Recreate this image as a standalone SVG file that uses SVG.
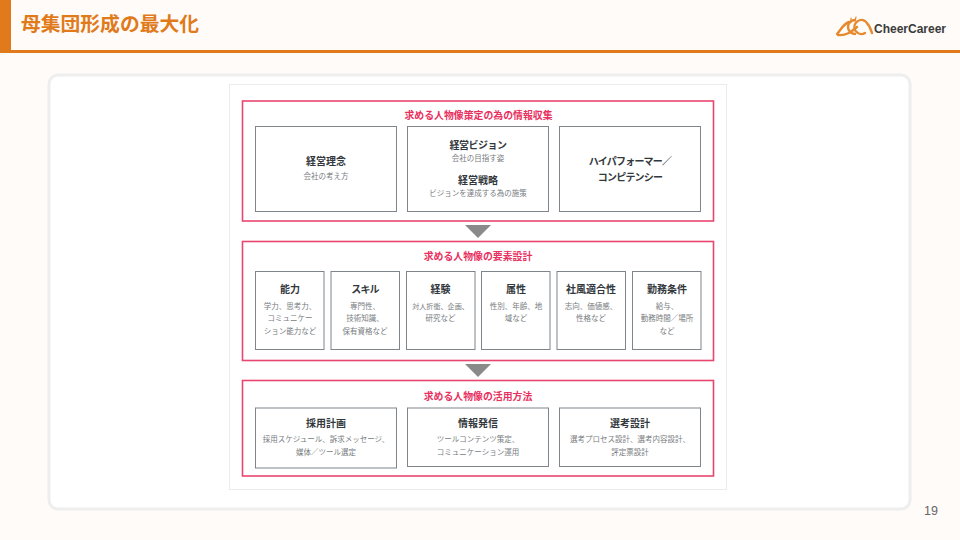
<svg xmlns="http://www.w3.org/2000/svg" width="960" height="540" viewBox="0 0 960 540">
<defs><style>
text{font-family:"Noto Sans CJK JP","Liberation Sans",sans-serif;text-anchor:middle}
.sec{fill:none;stroke:#e8456f;stroke-width:1.6}
.box{fill:#fff;stroke:#7f858b;stroke-width:1}
.st{font-size:9.9px;font-weight:700;fill:#e8305f}
.h{font-size:10px;font-weight:700;fill:#33383d}
.k{letter-spacing:-0.8px}
.d{font-size:7.5px;fill:#777c80}
.n{font-size:7.1px}
.arr{fill:#8a8a8a}
</style></defs>
<rect width="960" height="540" fill="#fffbf8"/>
<g id="header">
<rect x="0" y="0" width="11" height="53" fill="#e07a1a"/>
<rect x="0" y="50" width="960" height="3" fill="#e07a1a"/>
<text x="110" y="31" style="font-size:19.8px;font-weight:700;fill:#e07a1a">母集団形成の最大化</text>
</g>
<g id="logo">
<g fill="none" stroke="#e58a2e" stroke-width="2.400" stroke-linecap="round">
<path d="M837 34C841 30 843 24 849 22"/>
<path d="M855 20A7 7 0 1 0 855 34"/>
<path d="M865 21A7 7 0 1 0 865 33"/>
<path d="M838 35C846 36 851 32 857 27"/>
<path d="M866 22C869 25 871 29 872 33"/>
<path d="M851 18L851 22M856 17L855 21" stroke-width="1.200"/>
</g>
<text x="910" y="32.500" style="font-size:12px;font-weight:700;fill:#3a3a3a;font-family:'Liberation Sans',sans-serif">CheerCareer</text>
</g>
<g id="panel">
<rect x="49" y="75" width="861" height="434" rx="9" fill="#fff" stroke="#eeeeee" stroke-width="3"/>
<rect x="229.500" y="84.500" width="497" height="405" fill="#fff" stroke="#ececec" stroke-width="1"/>
</g>
<g id="section1">
<rect class="sec" x="242.500" y="101" width="471" height="120"/>
<text class="st" x="478.500" y="119">求める人物像策定の為の情報収集</text>
</g>
<g id="n-rinen">
<rect class="box" x="255.500" y="126.500" width="141" height="85"/>
<text class="h" x="326" y="165">経営理念</text>
<text class="d" x="326" y="179">会社の考え方</text>
</g>
<g id="n-vision">
<rect class="box" x="407.500" y="126.500" width="141" height="85"/>
<text class="h" style="letter-spacing:-0.5px" x="478" y="148.500">経営ビジョン</text>
<text class="d" x="478" y="161">会社の目指す姿</text>
<text class="h" x="478" y="184">経営戦略</text>
<text class="d" x="478" y="195.500">ビジョンを達成する為の施策</text>
</g>
<g id="n-hp">
<rect class="box" x="559.500" y="126.500" width="141" height="85"/>
<text class="h k" x="630" y="165">ハイパフォーマー／</text>
<text class="h k" x="630" y="181">コンピテンシー</text>
</g>
<g id="connectors">
<polygon class="arr" points="465,225 491,225 478,238"/>
<polygon class="arr" points="465,364 491,364 478,377"/>
</g>
<g id="section2">
<rect class="sec" x="242.500" y="241.500" width="471" height="119"/>
<text class="st" x="478" y="260">求める人物像の要素設計</text>
</g>
<g id="n-noryoku">
<rect class="box" x="255.500" y="271.500" width="68.500" height="78"/>
<text class="h" x="290" y="293">能力</text>
<text class="d" x="290" y="308.500">学力、思考力、</text>
<text class="d" x="290" y="320.500">コミュニケー</text>
<text class="d" x="290" y="333.500">ション能力など</text>
</g>
<g id="n-skill">
<rect class="box" x="331" y="271.500" width="68.500" height="78"/>
<text class="h k" x="365" y="293">スキル</text>
<text class="d" x="365" y="308.500">専門性、</text>
<text class="d" x="365" y="320.500">技術知識、</text>
<text class="d" x="365" y="333.500">保有資格など</text>
</g>
<g id="n-keiken">
<rect class="box" x="406.500" y="271.500" width="68.500" height="78"/>
<text class="h" x="440.500" y="293">経験</text>
<text class="d n" x="440.500" y="308.500">対人折衝、企画、</text>
<text class="d" x="440.500" y="320.500">研究など</text>
</g>
<g id="n-zokusei">
<rect class="box" x="481.500" y="271.500" width="68.500" height="78"/>
<text class="h" x="516" y="293">属性</text>
<text class="d" x="516" y="308.500">性別、年齢、地</text>
<text class="d" x="516" y="320.500">域など</text>
</g>
<g id="n-shafu">
<rect class="box" x="557" y="271.500" width="68.500" height="78"/>
<text class="h" x="591" y="293">社風適合性</text>
<text class="d" x="591" y="308.500">志向、価値感、</text>
<text class="d" x="591" y="320.500">性格など</text>
</g>
<g id="n-kinmu">
<rect class="box" x="632.500" y="271.500" width="68.500" height="78"/>
<text class="h" x="667" y="293">勤務条件</text>
<text class="d" x="667" y="308.500">給与、</text>
<text class="d" x="667" y="320.500">勤務時間／場所</text>
<text class="d" x="667" y="333.500">など</text>
</g>
<g id="section3">
<rect class="sec" x="242.500" y="380.500" width="471" height="95.500"/>
<text class="st" x="478" y="400">求める人物像の活用方法</text>
</g>
<g id="n-saiyo">
<rect class="box" x="255.500" y="408" width="141" height="60"/>
<text class="h" x="326" y="427">採用計画</text>
<text class="d" x="326" y="442">採用スケジュール、訴求メッセージ、</text>
<text class="d" x="326" y="454.500">媒体／ツール選定</text>
</g>
<g id="n-joho">
<rect class="box" x="407.500" y="408" width="141" height="58.500"/>
<text class="h" x="478" y="427">情報発信</text>
<text class="d" x="478" y="442">ツールコンテンツ策定、</text>
<text class="d" x="478" y="454.500">コミュニケーション運用</text>
</g>
<g id="n-senko">
<rect class="box" x="559.500" y="408" width="141" height="58.500"/>
<text class="h" x="630" y="427">選考設計</text>
<text class="d" x="630" y="442">選考プロセス設計、選考内容設計、</text>
<text class="d" x="630" y="454.500">評定票設計</text>
</g>
<text x="931" y="515" style="font-size:12.500px;fill:#666;font-family:'Liberation Sans',sans-serif">19</text>
</svg>
